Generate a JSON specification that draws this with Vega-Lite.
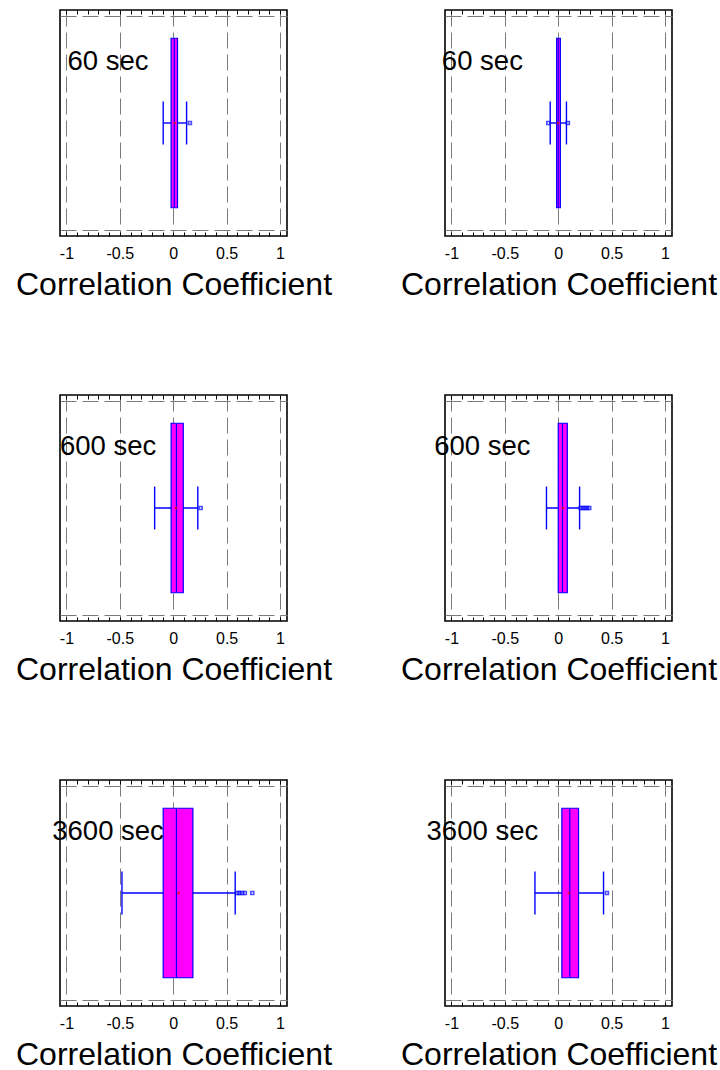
{
 "$schema": "https://vega.github.io/schema/vega-lite/v6.json",
 "padding": {"left": 14, "top": 8, "right": 0, "bottom": 0},
 "background": "white",
 "config": {
  "font": "Liberation Sans",
  "view": {"stroke": "black", "strokeWidth": 1.6},
  "axisX": {"tickSize": -4, "tickColor": "black", "tickWidth": 1, "domain": false, "labelFontSize": 16, "labelColor": "black", "labelFlush": false, "labelOverlap": false, "labelBound": false, "labelPadding": 13, "titleFontSize": 32, "titleFontWeight": "normal", "titleColor": "black", "titlePadding": 8, "gridColor": "#7a7a7a", "gridDash": [16, 6], "gridWidth": 1}
 },
 "datasets": {
  "stats": [
   {"panel": "L60", "lw": -0.094, "q1": -0.02, "med": 0.01, "q3": 0.04, "uw": 0.125, "mean": 0.016, "label": "60 sec"},
   {"panel": "R60", "lw": -0.075, "q1": -0.015, "med": 0.0, "q3": 0.02, "uw": 0.077, "mean": 0.0, "label": "60 sec"},
   {"panel": "L600", "lw": -0.174, "q1": -0.02, "med": 0.03, "q3": 0.094, "uw": 0.23, "mean": 0.025, "label": "600 sec"},
   {"panel": "R600", "lw": -0.11, "q1": 0.0, "med": 0.04, "q3": 0.085, "uw": 0.2, "mean": 0.045, "label": "600 sec"},
   {"panel": "L3600", "lw": -0.48, "q1": -0.094, "med": 0.03, "q3": 0.184, "uw": 0.58, "mean": 0.05, "label": "3600 sec"},
   {"panel": "R3600", "lw": -0.218, "q1": 0.034, "med": 0.108, "q3": 0.19, "uw": 0.424, "mean": 0.1, "label": "3600 sec"}
  ],
  "outliers": [
   {"panel": "L60", "out": 0.156},
   {"panel": "R60", "out": -0.093},
   {"panel": "R60", "out": 0.09},
   {"panel": "L600", "out": 0.256},
   {"panel": "R600", "out": 0.21},
   {"panel": "R600", "out": 0.23},
   {"panel": "R600", "out": 0.25},
   {"panel": "R600", "out": 0.27},
   {"panel": "R600", "out": 0.29},
   {"panel": "L3600", "out": 0.6},
   {"panel": "L3600", "out": 0.62},
   {"panel": "L3600", "out": 0.645},
   {"panel": "L3600", "out": 0.67},
   {"panel": "L3600", "out": 0.74},
   {"panel": "R3600", "out": 0.456}
  ]
 },
 "columns": 2,
 "spacing": {"row": 159, "column": 158},
 "bounds": "flush",
 "concat": [
  {
   "width": 227, "height": 226,
   "data": {"name": "stats"},
   "transform": [{"filter": "datum.panel == 'L60'"}],
   "resolve": {"axis": {"x": "independent", "y": "independent"}},
   "layer": [
    {"mark": {"type": "rule", "color": "#0000FF", "strokeWidth": 1.4},
     "encoding": {"x": {"field": "lw", "type": "quantitative", "axis": {"orient": "top", "values": [-1,-0.9,-0.8,-0.7,-0.6,-0.5,-0.4,-0.3,-0.2,-0.1,0,0.1,0.2,0.3,0.4,0.5,0.6,0.7,0.8,0.9,1], "grid": false, "labels": false, "title": null}}, "x2": {"field": "uw"}, "y": {"datum": 0.5, "type": "quantitative", "axis": null}}},
    {"mark": {"type": "rect", "fill": "#FF00FF", "stroke": "#0000FF", "strokeWidth": 1.2},
     "encoding": {
      "x": {"field": "q1", "type": "quantitative", "scale": {"domain": [-1.06, 1.065], "nice": false, "zero": false}, "axis": {"orient": "bottom", "values": [-1,-0.9,-0.8,-0.7,-0.6,-0.5,-0.4,-0.3,-0.2,-0.1,0,0.1,0.2,0.3,0.4,0.5,0.6,0.7,0.8,0.9,1], "grid": true, "gridOpacity": {"condition": {"test": "abs(datum.value*2 - round(datum.value*2)) < 0.001", "value": 1}, "value": 0}, "labelExpr": "abs(datum.value*2 - round(datum.value*2)) < 0.001 ? toString(datum.value) : ''", "title": "Correlation Coefficient"}},
      "x2": {"field": "q3"},
      "y": {"datum": 0.125, "type": "quantitative", "scale": {"domain": [0, 1], "nice": false, "zero": false}, "axis": {"values": [0.025, 0.975], "grid": true, "gridDash": [16, 6], "gridColor": "#7a7a7a", "ticks": false, "labels": false, "domain": false, "title": null}},
      "y2": {"datum": 0.875}}},
    {"mark": {"type": "rule", "color": "#0000FF", "strokeWidth": 1.2},
     "encoding": {"x": {"field": "med", "type": "quantitative", "axis": null}, "y": {"datum": 0.125, "type": "quantitative", "axis": null}, "y2": {"datum": 0.875}}},
    {"mark": {"type": "rule", "color": "#0000FF", "strokeWidth": 1.4},
     "encoding": {"x": {"field": "lw", "type": "quantitative", "axis": null}, "y": {"datum": 0.405, "type": "quantitative", "axis": null}, "y2": {"datum": 0.595}}},
    {"mark": {"type": "rule", "color": "#0000FF", "strokeWidth": 1.4},
     "encoding": {"x": {"field": "uw", "type": "quantitative", "axis": null}, "y": {"datum": 0.405, "type": "quantitative", "axis": null}, "y2": {"datum": 0.595}}},
    {"mark": {"type": "point", "shape": "square", "filled": true, "color": "#FF0000", "size": 6},
     "encoding": {"x": {"field": "mean", "type": "quantitative", "axis": null}, "y": {"datum": 0.5, "type": "quantitative", "axis": null}}},
    {"data": {"name": "outliers"}, "transform": [{"filter": "datum.panel == 'L60'"}],
     "mark": {"type": "point", "shape": "square", "filled": false, "color": "#0000FF", "strokeWidth": 1.6, "size": 9},
     "encoding": {"x": {"field": "out", "type": "quantitative", "axis": null}, "y": {"datum": 0.5, "type": "quantitative", "axis": null}}},
    {"mark": {"type": "text", "fontSize": 27.5, "color": "black", "align": "center", "baseline": "alphabetic"},
     "encoding": {"text": {"field": "label"}, "x": {"datum": -0.61, "type": "quantitative", "axis": null}, "y": {"datum": 0.733, "type": "quantitative", "axis": null}}}
   ]
  },
  {
   "width": 227, "height": 226,
   "data": {"name": "stats"},
   "transform": [{"filter": "datum.panel == 'R60'"}],
   "resolve": {"axis": {"x": "independent", "y": "independent"}},
   "layer": [
    {"mark": {"type": "rule", "color": "#0000FF", "strokeWidth": 1.4},
     "encoding": {"x": {"field": "lw", "type": "quantitative", "axis": {"orient": "top", "values": [-1,-0.9,-0.8,-0.7,-0.6,-0.5,-0.4,-0.3,-0.2,-0.1,0,0.1,0.2,0.3,0.4,0.5,0.6,0.7,0.8,0.9,1], "grid": false, "labels": false, "title": null}}, "x2": {"field": "uw"}, "y": {"datum": 0.5, "type": "quantitative", "axis": null}}},
    {"mark": {"type": "rect", "fill": "#FF00FF", "stroke": "#0000FF", "strokeWidth": 1.2},
     "encoding": {
      "x": {"field": "q1", "type": "quantitative", "scale": {"domain": [-1.06, 1.065], "nice": false, "zero": false}, "axis": {"orient": "bottom", "values": [-1,-0.9,-0.8,-0.7,-0.6,-0.5,-0.4,-0.3,-0.2,-0.1,0,0.1,0.2,0.3,0.4,0.5,0.6,0.7,0.8,0.9,1], "grid": true, "gridOpacity": {"condition": {"test": "abs(datum.value*2 - round(datum.value*2)) < 0.001", "value": 1}, "value": 0}, "labelExpr": "abs(datum.value*2 - round(datum.value*2)) < 0.001 ? toString(datum.value) : ''", "title": "Correlation Coefficient"}},
      "x2": {"field": "q3"},
      "y": {"datum": 0.125, "type": "quantitative", "scale": {"domain": [0, 1], "nice": false, "zero": false}, "axis": {"values": [0.025, 0.975], "grid": true, "gridDash": [16, 6], "gridColor": "#7a7a7a", "ticks": false, "labels": false, "domain": false, "title": null}},
      "y2": {"datum": 0.875}}},
    {"mark": {"type": "rule", "color": "#0000FF", "strokeWidth": 1.2},
     "encoding": {"x": {"field": "med", "type": "quantitative", "axis": null}, "y": {"datum": 0.125, "type": "quantitative", "axis": null}, "y2": {"datum": 0.875}}},
    {"mark": {"type": "rule", "color": "#0000FF", "strokeWidth": 1.4},
     "encoding": {"x": {"field": "lw", "type": "quantitative", "axis": null}, "y": {"datum": 0.405, "type": "quantitative", "axis": null}, "y2": {"datum": 0.595}}},
    {"mark": {"type": "rule", "color": "#0000FF", "strokeWidth": 1.4},
     "encoding": {"x": {"field": "uw", "type": "quantitative", "axis": null}, "y": {"datum": 0.405, "type": "quantitative", "axis": null}, "y2": {"datum": 0.595}}},
    {"mark": {"type": "point", "shape": "square", "filled": true, "color": "#FF0000", "size": 6},
     "encoding": {"x": {"field": "mean", "type": "quantitative", "axis": null}, "y": {"datum": 0.5, "type": "quantitative", "axis": null}}},
    {"data": {"name": "outliers"}, "transform": [{"filter": "datum.panel == 'R60'"}],
     "mark": {"type": "point", "shape": "square", "filled": false, "color": "#0000FF", "strokeWidth": 1.6, "size": 9},
     "encoding": {"x": {"field": "out", "type": "quantitative", "axis": null}, "y": {"datum": 0.5, "type": "quantitative", "axis": null}}},
    {"mark": {"type": "text", "fontSize": 27.5, "color": "black", "align": "center", "baseline": "alphabetic"},
     "encoding": {"text": {"field": "label"}, "x": {"datum": -0.71, "type": "quantitative", "axis": null}, "y": {"datum": 0.733, "type": "quantitative", "axis": null}}}
   ]
  },
  {
   "width": 227, "height": 226,
   "data": {"name": "stats"},
   "transform": [{"filter": "datum.panel == 'L600'"}],
   "resolve": {"axis": {"x": "independent", "y": "independent"}},
   "layer": [
    {"mark": {"type": "rule", "color": "#0000FF", "strokeWidth": 1.4},
     "encoding": {"x": {"field": "lw", "type": "quantitative", "axis": {"orient": "top", "values": [-1,-0.9,-0.8,-0.7,-0.6,-0.5,-0.4,-0.3,-0.2,-0.1,0,0.1,0.2,0.3,0.4,0.5,0.6,0.7,0.8,0.9,1], "grid": false, "labels": false, "title": null}}, "x2": {"field": "uw"}, "y": {"datum": 0.5, "type": "quantitative", "axis": null}}},
    {"mark": {"type": "rect", "fill": "#FF00FF", "stroke": "#0000FF", "strokeWidth": 1.2},
     "encoding": {
      "x": {"field": "q1", "type": "quantitative", "scale": {"domain": [-1.06, 1.065], "nice": false, "zero": false}, "axis": {"orient": "bottom", "values": [-1,-0.9,-0.8,-0.7,-0.6,-0.5,-0.4,-0.3,-0.2,-0.1,0,0.1,0.2,0.3,0.4,0.5,0.6,0.7,0.8,0.9,1], "grid": true, "gridOpacity": {"condition": {"test": "abs(datum.value*2 - round(datum.value*2)) < 0.001", "value": 1}, "value": 0}, "labelExpr": "abs(datum.value*2 - round(datum.value*2)) < 0.001 ? toString(datum.value) : ''", "title": "Correlation Coefficient"}},
      "x2": {"field": "q3"},
      "y": {"datum": 0.125, "type": "quantitative", "scale": {"domain": [0, 1], "nice": false, "zero": false}, "axis": {"values": [0.025, 0.975], "grid": true, "gridDash": [16, 6], "gridColor": "#7a7a7a", "ticks": false, "labels": false, "domain": false, "title": null}},
      "y2": {"datum": 0.875}}},
    {"mark": {"type": "rule", "color": "#0000FF", "strokeWidth": 1.2},
     "encoding": {"x": {"field": "med", "type": "quantitative", "axis": null}, "y": {"datum": 0.125, "type": "quantitative", "axis": null}, "y2": {"datum": 0.875}}},
    {"mark": {"type": "rule", "color": "#0000FF", "strokeWidth": 1.4},
     "encoding": {"x": {"field": "lw", "type": "quantitative", "axis": null}, "y": {"datum": 0.405, "type": "quantitative", "axis": null}, "y2": {"datum": 0.595}}},
    {"mark": {"type": "rule", "color": "#0000FF", "strokeWidth": 1.4},
     "encoding": {"x": {"field": "uw", "type": "quantitative", "axis": null}, "y": {"datum": 0.405, "type": "quantitative", "axis": null}, "y2": {"datum": 0.595}}},
    {"mark": {"type": "point", "shape": "square", "filled": true, "color": "#FF0000", "size": 6},
     "encoding": {"x": {"field": "mean", "type": "quantitative", "axis": null}, "y": {"datum": 0.5, "type": "quantitative", "axis": null}}},
    {"data": {"name": "outliers"}, "transform": [{"filter": "datum.panel == 'L600'"}],
     "mark": {"type": "point", "shape": "square", "filled": false, "color": "#0000FF", "strokeWidth": 1.6, "size": 9},
     "encoding": {"x": {"field": "out", "type": "quantitative", "axis": null}, "y": {"datum": 0.5, "type": "quantitative", "axis": null}}},
    {"mark": {"type": "text", "fontSize": 27.5, "color": "black", "align": "center", "baseline": "alphabetic"},
     "encoding": {"text": {"field": "label"}, "x": {"datum": -0.61, "type": "quantitative", "axis": null}, "y": {"datum": 0.733, "type": "quantitative", "axis": null}}}
   ]
  },
  {
   "width": 227, "height": 226,
   "data": {"name": "stats"},
   "transform": [{"filter": "datum.panel == 'R600'"}],
   "resolve": {"axis": {"x": "independent", "y": "independent"}},
   "layer": [
    {"mark": {"type": "rule", "color": "#0000FF", "strokeWidth": 1.4},
     "encoding": {"x": {"field": "lw", "type": "quantitative", "axis": {"orient": "top", "values": [-1,-0.9,-0.8,-0.7,-0.6,-0.5,-0.4,-0.3,-0.2,-0.1,0,0.1,0.2,0.3,0.4,0.5,0.6,0.7,0.8,0.9,1], "grid": false, "labels": false, "title": null}}, "x2": {"field": "uw"}, "y": {"datum": 0.5, "type": "quantitative", "axis": null}}},
    {"mark": {"type": "rect", "fill": "#FF00FF", "stroke": "#0000FF", "strokeWidth": 1.2},
     "encoding": {
      "x": {"field": "q1", "type": "quantitative", "scale": {"domain": [-1.06, 1.065], "nice": false, "zero": false}, "axis": {"orient": "bottom", "values": [-1,-0.9,-0.8,-0.7,-0.6,-0.5,-0.4,-0.3,-0.2,-0.1,0,0.1,0.2,0.3,0.4,0.5,0.6,0.7,0.8,0.9,1], "grid": true, "gridOpacity": {"condition": {"test": "abs(datum.value*2 - round(datum.value*2)) < 0.001", "value": 1}, "value": 0}, "labelExpr": "abs(datum.value*2 - round(datum.value*2)) < 0.001 ? toString(datum.value) : ''", "title": "Correlation Coefficient"}},
      "x2": {"field": "q3"},
      "y": {"datum": 0.125, "type": "quantitative", "scale": {"domain": [0, 1], "nice": false, "zero": false}, "axis": {"values": [0.025, 0.975], "grid": true, "gridDash": [16, 6], "gridColor": "#7a7a7a", "ticks": false, "labels": false, "domain": false, "title": null}},
      "y2": {"datum": 0.875}}},
    {"mark": {"type": "rule", "color": "#0000FF", "strokeWidth": 1.2},
     "encoding": {"x": {"field": "med", "type": "quantitative", "axis": null}, "y": {"datum": 0.125, "type": "quantitative", "axis": null}, "y2": {"datum": 0.875}}},
    {"mark": {"type": "rule", "color": "#0000FF", "strokeWidth": 1.4},
     "encoding": {"x": {"field": "lw", "type": "quantitative", "axis": null}, "y": {"datum": 0.405, "type": "quantitative", "axis": null}, "y2": {"datum": 0.595}}},
    {"mark": {"type": "rule", "color": "#0000FF", "strokeWidth": 1.4},
     "encoding": {"x": {"field": "uw", "type": "quantitative", "axis": null}, "y": {"datum": 0.405, "type": "quantitative", "axis": null}, "y2": {"datum": 0.595}}},
    {"mark": {"type": "point", "shape": "square", "filled": true, "color": "#FF0000", "size": 6},
     "encoding": {"x": {"field": "mean", "type": "quantitative", "axis": null}, "y": {"datum": 0.5, "type": "quantitative", "axis": null}}},
    {"data": {"name": "outliers"}, "transform": [{"filter": "datum.panel == 'R600'"}],
     "mark": {"type": "point", "shape": "square", "filled": false, "color": "#0000FF", "strokeWidth": 1.6, "size": 9},
     "encoding": {"x": {"field": "out", "type": "quantitative", "axis": null}, "y": {"datum": 0.5, "type": "quantitative", "axis": null}}},
    {"mark": {"type": "text", "fontSize": 27.5, "color": "black", "align": "center", "baseline": "alphabetic"},
     "encoding": {"text": {"field": "label"}, "x": {"datum": -0.71, "type": "quantitative", "axis": null}, "y": {"datum": 0.733, "type": "quantitative", "axis": null}}}
   ]
  },
  {
   "width": 227, "height": 226,
   "data": {"name": "stats"},
   "transform": [{"filter": "datum.panel == 'L3600'"}],
   "resolve": {"axis": {"x": "independent", "y": "independent"}},
   "layer": [
    {"mark": {"type": "rule", "color": "#0000FF", "strokeWidth": 1.4},
     "encoding": {"x": {"field": "lw", "type": "quantitative", "axis": {"orient": "top", "values": [-1,-0.9,-0.8,-0.7,-0.6,-0.5,-0.4,-0.3,-0.2,-0.1,0,0.1,0.2,0.3,0.4,0.5,0.6,0.7,0.8,0.9,1], "grid": false, "labels": false, "title": null}}, "x2": {"field": "uw"}, "y": {"datum": 0.5, "type": "quantitative", "axis": null}}},
    {"mark": {"type": "rect", "fill": "#FF00FF", "stroke": "#0000FF", "strokeWidth": 1.2},
     "encoding": {
      "x": {"field": "q1", "type": "quantitative", "scale": {"domain": [-1.06, 1.065], "nice": false, "zero": false}, "axis": {"orient": "bottom", "values": [-1,-0.9,-0.8,-0.7,-0.6,-0.5,-0.4,-0.3,-0.2,-0.1,0,0.1,0.2,0.3,0.4,0.5,0.6,0.7,0.8,0.9,1], "grid": true, "gridOpacity": {"condition": {"test": "abs(datum.value*2 - round(datum.value*2)) < 0.001", "value": 1}, "value": 0}, "labelExpr": "abs(datum.value*2 - round(datum.value*2)) < 0.001 ? toString(datum.value) : ''", "title": "Correlation Coefficient"}},
      "x2": {"field": "q3"},
      "y": {"datum": 0.125, "type": "quantitative", "scale": {"domain": [0, 1], "nice": false, "zero": false}, "axis": {"values": [0.025, 0.975], "grid": true, "gridDash": [16, 6], "gridColor": "#7a7a7a", "ticks": false, "labels": false, "domain": false, "title": null}},
      "y2": {"datum": 0.875}}},
    {"mark": {"type": "rule", "color": "#0000FF", "strokeWidth": 1.2},
     "encoding": {"x": {"field": "med", "type": "quantitative", "axis": null}, "y": {"datum": 0.125, "type": "quantitative", "axis": null}, "y2": {"datum": 0.875}}},
    {"mark": {"type": "rule", "color": "#0000FF", "strokeWidth": 1.4},
     "encoding": {"x": {"field": "lw", "type": "quantitative", "axis": null}, "y": {"datum": 0.405, "type": "quantitative", "axis": null}, "y2": {"datum": 0.595}}},
    {"mark": {"type": "rule", "color": "#0000FF", "strokeWidth": 1.4},
     "encoding": {"x": {"field": "uw", "type": "quantitative", "axis": null}, "y": {"datum": 0.405, "type": "quantitative", "axis": null}, "y2": {"datum": 0.595}}},
    {"mark": {"type": "point", "shape": "square", "filled": true, "color": "#FF0000", "size": 6},
     "encoding": {"x": {"field": "mean", "type": "quantitative", "axis": null}, "y": {"datum": 0.5, "type": "quantitative", "axis": null}}},
    {"data": {"name": "outliers"}, "transform": [{"filter": "datum.panel == 'L3600'"}],
     "mark": {"type": "point", "shape": "square", "filled": false, "color": "#0000FF", "strokeWidth": 1.6, "size": 9},
     "encoding": {"x": {"field": "out", "type": "quantitative", "axis": null}, "y": {"datum": 0.5, "type": "quantitative", "axis": null}}},
    {"mark": {"type": "text", "fontSize": 27.5, "color": "black", "align": "center", "baseline": "alphabetic"},
     "encoding": {"text": {"field": "label"}, "x": {"datum": -0.61, "type": "quantitative", "axis": null}, "y": {"datum": 0.733, "type": "quantitative", "axis": null}}}
   ]
  },
  {
   "width": 227, "height": 226,
   "data": {"name": "stats"},
   "transform": [{"filter": "datum.panel == 'R3600'"}],
   "resolve": {"axis": {"x": "independent", "y": "independent"}},
   "layer": [
    {"mark": {"type": "rule", "color": "#0000FF", "strokeWidth": 1.4},
     "encoding": {"x": {"field": "lw", "type": "quantitative", "axis": {"orient": "top", "values": [-1,-0.9,-0.8,-0.7,-0.6,-0.5,-0.4,-0.3,-0.2,-0.1,0,0.1,0.2,0.3,0.4,0.5,0.6,0.7,0.8,0.9,1], "grid": false, "labels": false, "title": null}}, "x2": {"field": "uw"}, "y": {"datum": 0.5, "type": "quantitative", "axis": null}}},
    {"mark": {"type": "rect", "fill": "#FF00FF", "stroke": "#0000FF", "strokeWidth": 1.2},
     "encoding": {
      "x": {"field": "q1", "type": "quantitative", "scale": {"domain": [-1.06, 1.065], "nice": false, "zero": false}, "axis": {"orient": "bottom", "values": [-1,-0.9,-0.8,-0.7,-0.6,-0.5,-0.4,-0.3,-0.2,-0.1,0,0.1,0.2,0.3,0.4,0.5,0.6,0.7,0.8,0.9,1], "grid": true, "gridOpacity": {"condition": {"test": "abs(datum.value*2 - round(datum.value*2)) < 0.001", "value": 1}, "value": 0}, "labelExpr": "abs(datum.value*2 - round(datum.value*2)) < 0.001 ? toString(datum.value) : ''", "title": "Correlation Coefficient"}},
      "x2": {"field": "q3"},
      "y": {"datum": 0.125, "type": "quantitative", "scale": {"domain": [0, 1], "nice": false, "zero": false}, "axis": {"values": [0.025, 0.975], "grid": true, "gridDash": [16, 6], "gridColor": "#7a7a7a", "ticks": false, "labels": false, "domain": false, "title": null}},
      "y2": {"datum": 0.875}}},
    {"mark": {"type": "rule", "color": "#0000FF", "strokeWidth": 1.2},
     "encoding": {"x": {"field": "med", "type": "quantitative", "axis": null}, "y": {"datum": 0.125, "type": "quantitative", "axis": null}, "y2": {"datum": 0.875}}},
    {"mark": {"type": "rule", "color": "#0000FF", "strokeWidth": 1.4},
     "encoding": {"x": {"field": "lw", "type": "quantitative", "axis": null}, "y": {"datum": 0.405, "type": "quantitative", "axis": null}, "y2": {"datum": 0.595}}},
    {"mark": {"type": "rule", "color": "#0000FF", "strokeWidth": 1.4},
     "encoding": {"x": {"field": "uw", "type": "quantitative", "axis": null}, "y": {"datum": 0.405, "type": "quantitative", "axis": null}, "y2": {"datum": 0.595}}},
    {"mark": {"type": "point", "shape": "square", "filled": true, "color": "#FF0000", "size": 6},
     "encoding": {"x": {"field": "mean", "type": "quantitative", "axis": null}, "y": {"datum": 0.5, "type": "quantitative", "axis": null}}},
    {"data": {"name": "outliers"}, "transform": [{"filter": "datum.panel == 'R3600'"}],
     "mark": {"type": "point", "shape": "square", "filled": false, "color": "#0000FF", "strokeWidth": 1.6, "size": 9},
     "encoding": {"x": {"field": "out", "type": "quantitative", "axis": null}, "y": {"datum": 0.5, "type": "quantitative", "axis": null}}},
    {"mark": {"type": "text", "fontSize": 27.5, "color": "black", "align": "center", "baseline": "alphabetic"},
     "encoding": {"text": {"field": "label"}, "x": {"datum": -0.71, "type": "quantitative", "axis": null}, "y": {"datum": 0.733, "type": "quantitative", "axis": null}}}
   ]
  }
 ]
}
